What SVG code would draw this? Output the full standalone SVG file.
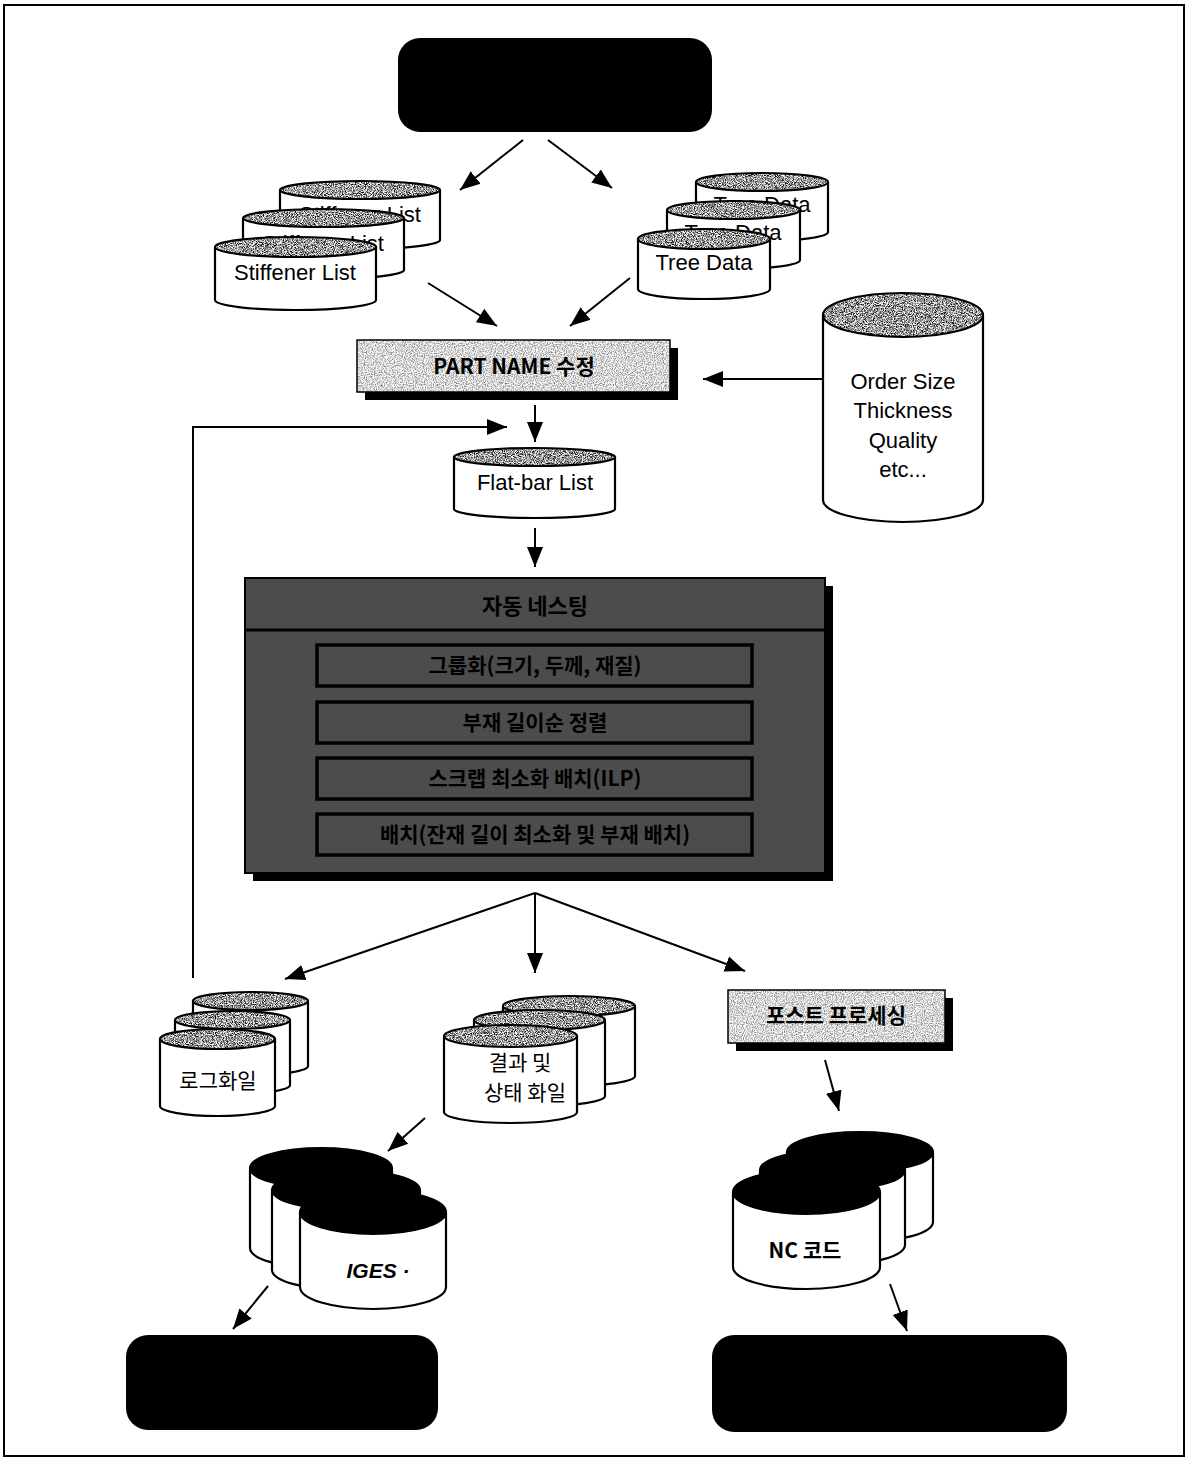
<svg xmlns="http://www.w3.org/2000/svg" width="1190" height="1461" viewBox="0 0 1190 1461">
<style>
.ln{stroke:#000;stroke-width:2;fill:none}
.body{fill:#fff;stroke:#000;stroke-width:2.2}
.t{font-family:"Liberation Sans",Arial,"Noto Sans CJK KR",sans-serif;fill:#000;text-anchor:middle}
.k{font-family:"Noto Sans CJK KR","Liberation Sans",sans-serif;fill:#000;text-anchor:middle}
.blk{fill:#000}
.rim{fill:none;stroke:#000;stroke-width:2.2}
.cap{fill:#888;filter:url(#grainM)}
</style>
<defs>
<filter id="grainL" x="0" y="0" width="1" height="1" color-interpolation-filters="sRGB">
<feTurbulence type="fractalNoise" baseFrequency="0.9" numOctaves="2" seed="3" result="n"/>
<feColorMatrix in="n" type="matrix" values="1.2 0 0 0 0.24  1.2 0 0 0 0.24  1.2 0 0 0 0.24  0 0 0 0 1" result="g"/>
<feComposite in="g" in2="SourceGraphic" operator="in"/>
</filter>
<filter id="grainM" x="0" y="0" width="1" height="1" color-interpolation-filters="sRGB">
<feTurbulence type="fractalNoise" baseFrequency="1.1" numOctaves="2" seed="5" result="n"/>
<feColorMatrix in="n" type="matrix" values="2.4 0 0 0 -0.6  2.4 0 0 0 -0.6  2.4 0 0 0 -0.6  0 0 0 0 1" result="g"/>
<feComposite in="g" in2="SourceGraphic" operator="in"/>
</filter>
<filter id="grainD" x="0" y="0" width="1" height="1" color-interpolation-filters="sRGB">
<feTurbulence type="fractalNoise" baseFrequency="1.0" numOctaves="2" seed="7" result="n"/>
<feColorMatrix in="n" type="matrix" values="3.6 0 0 0 -1.5  3.6 0 0 0 -1.5  3.6 0 0 0 -1.5  0 0 0 0 1" result="g"/>
<feComposite in="g" in2="SourceGraphic" operator="in"/>
</filter>
<marker id="ah" markerUnits="userSpaceOnUse" markerWidth="22" markerHeight="18" refX="20" refY="9" orient="auto">
<path d="M0,1 L20,9 L0,17 Z" fill="#000"/>
</marker>
</defs>
<rect width="1190" height="1461" fill="#fff"/>
<rect x="4" y="5" width="1180" height="1451" fill="none" stroke="#000" stroke-width="2"/>

<g id="start-terminal"><rect x="398" y="38" width="314" height="94" rx="22" class="blk"/></g>

<g id="stiffener-lists">
<path class="body" d="M280,190 V240 A80,9 0 0 0 440,240 V190"/>
<ellipse class="cap" cx="360" cy="190" rx="80" ry="9"/>
<ellipse class="rim" cx="360" cy="190" rx="80" ry="9"/>
<text class="t" x="360" y="222" font-size="22">Stiffener List</text>
<path class="body" d="M243,218 V270 A80.5,9 0 0 0 404,270 V218"/>
<ellipse class="cap" cx="323.5" cy="218" rx="80.5" ry="9"/>
<ellipse class="rim" cx="323.5" cy="218" rx="80.5" ry="9"/>
<text class="t" x="323" y="251" font-size="22">Stiffener List</text>
<path class="body" d="M215,247 V300 A80.5,10 0 0 0 376,300 V247"/>
<ellipse class="cap" cx="295.5" cy="247" rx="80.5" ry="10"/>
<ellipse class="rim" cx="295.5" cy="247" rx="80.5" ry="10"/>
<text class="t" x="295" y="280" font-size="22">Stiffener List</text>
</g>

<g id="tree-data">
<path class="body" d="M696,182 V232 A66,9 0 0 0 828,232 V182"/>
<ellipse class="cap" cx="762" cy="182" rx="66" ry="9"/>
<ellipse class="rim" cx="762" cy="182" rx="66" ry="9"/>
<text class="t" x="762" y="212" font-size="22">Tree Data</text>
<path class="body" d="M667,210 V260 A66.5,9 0 0 0 800,260 V210"/>
<ellipse class="cap" cx="733.5" cy="210" rx="66.5" ry="9"/>
<ellipse class="rim" cx="733.5" cy="210" rx="66.5" ry="9"/>
<text class="t" x="733" y="240" font-size="22">Tree Data</text>
<path class="body" d="M638,239 V289 A66,10 0 0 0 770,289 V239"/>
<ellipse class="cap" cx="704" cy="239" rx="66" ry="10"/>
<ellipse class="rim" cx="704" cy="239" rx="66" ry="10"/>
<text class="t" x="704" y="270" font-size="22">Tree Data</text>
</g>

<g id="part-name">
<rect x="365" y="348" width="313" height="52" class="blk"/>
<rect x="357" y="340" width="313" height="52" fill="#ccc" filter="url(#grainL)"/>
<rect x="357" y="340" width="313" height="52" fill="none" stroke="#000" stroke-width="1.5"/>
<text class="k" x="514" y="374" font-size="21" font-weight="bold">PART NAME 수정</text>
</g>

<g id="order-data">
<path class="body" d="M823,315 V500 A80,22 0 0 0 983,500 V315"/>
<ellipse class="cap" cx="903" cy="315" rx="80" ry="22"/>
<ellipse class="rim" cx="903" cy="315" rx="80" ry="22"/>
<text class="t" x="903" y="389" font-size="22">Order Size</text>
<text class="t" x="903" y="418" font-size="22">Thickness</text>
<text class="t" x="903" y="448" font-size="22">Quality</text>
<text class="t" x="903" y="477" font-size="22">etc...</text>
</g>

<g id="flatbar-list">
<path class="body" d="M454,457 V509 A80.5,9 0 0 0 615,509 V457"/>
<ellipse class="cap" cx="534.5" cy="457" rx="80.5" ry="9"/>
<ellipse class="rim" cx="534.5" cy="457" rx="80.5" ry="9"/>
<text class="t" x="535" y="490" font-size="22">Flat-bar List</text>
</g>

<g id="auto-nesting">
<rect x="253" y="586" width="580" height="295" class="blk"/>
<rect x="245" y="578" width="580" height="295" fill="#555" filter="url(#grainD)"/>
<rect x="245" y="578" width="580" height="295" fill="none" stroke="#000" stroke-width="2"/>
<line x1="245" y1="630" x2="825" y2="630" stroke="#000" stroke-width="3"/>
<text class="k" x="535" y="614" font-size="22" font-weight="bold" fill="#000">자동 네스팅</text>
<rect x="317" y="645" width="435" height="41" fill="none" stroke="#000" stroke-width="3.5"/>
<text class="k" x="535" y="673" font-size="21" font-weight="bold" fill="#111">그룹화(크기, 두께, 재질)</text>
<rect x="317" y="702" width="435" height="41" fill="none" stroke="#000" stroke-width="3.5"/>
<text class="k" x="535" y="730" font-size="21" font-weight="bold" fill="#2a2a2a">부재 길이순 정렬</text>
<rect x="317" y="758" width="435" height="41" fill="none" stroke="#000" stroke-width="3.5"/>
<text class="k" x="535" y="786" font-size="21" font-weight="bold" fill="#111">스크랩 최소화 배치(ILP)</text>
<rect x="317" y="814" width="435" height="41" fill="none" stroke="#000" stroke-width="3.5"/>
<text class="k" x="535" y="842" font-size="21" font-weight="bold" fill="#111">배치(잔재 길이 최소화 및 부재 배치)</text>
</g>

<g id="log-files">
<path class="body" d="M193,1001 V1066 A57.5,9 0 0 0 308,1066 V1001"/>
<ellipse class="cap" cx="250.5" cy="1001" rx="57.5" ry="9"/>
<ellipse class="rim" cx="250.5" cy="1001" rx="57.5" ry="9"/>
<path class="body" d="M175,1020 V1085 A57.5,9 0 0 0 290,1085 V1020"/>
<ellipse class="cap" cx="232.5" cy="1020" rx="57.5" ry="9"/>
<ellipse class="rim" cx="232.5" cy="1020" rx="57.5" ry="9"/>
<path class="body" d="M160,1039 V1106 A57.5,10 0 0 0 275,1106 V1039"/>
<ellipse class="cap" cx="217.5" cy="1039" rx="57.5" ry="10"/>
<ellipse class="rim" cx="217.5" cy="1039" rx="57.5" ry="10"/>
<text class="k" x="218" y="1088" font-size="21">로그화일</text>
</g>

<g id="result-files">
<path class="body" d="M503,1006 V1076 A66,10 0 0 0 635,1076 V1006"/>
<ellipse class="cap" cx="569" cy="1006" rx="66" ry="10"/>
<ellipse class="rim" cx="569" cy="1006" rx="66" ry="10"/>
<path class="body" d="M474,1020 V1096 A65.5,10 0 0 0 605,1096 V1020"/>
<ellipse class="cap" cx="539.5" cy="1020" rx="65.5" ry="10"/>
<ellipse class="rim" cx="539.5" cy="1020" rx="65.5" ry="10"/>
<path class="body" d="M444,1036 V1112 A66.5,11 0 0 0 577,1112 V1036"/>
<ellipse class="cap" cx="510.5" cy="1036" rx="66.5" ry="11"/>
<ellipse class="rim" cx="510.5" cy="1036" rx="66.5" ry="11"/>
<text class="k" x="520" y="1070" font-size="21">결과 및</text>
<text class="k" x="525" y="1100" font-size="21">상태 화일</text>
</g>

<g id="post-processing">
<rect x="736" y="998" width="217" height="53" class="blk"/>
<rect x="728" y="990" width="217" height="53" fill="#ccc" filter="url(#grainL)"/>
<rect x="728" y="990" width="217" height="53" fill="none" stroke="#000" stroke-width="1.5"/>
<text class="k" x="836" y="1023" font-size="21" font-weight="bold">포스트 프로세싱</text>
</g>

<g id="iges-files">
<path class="body" d="M250,1168 V1248 A71,20 0 0 0 392,1248 V1168"/>
<ellipse cx="321" cy="1168" rx="71" ry="20" fill="#000" stroke="#000" stroke-width="2"/>
<path class="body" d="M272,1190 V1270 A74,20 0 0 0 420,1270 V1190"/>
<ellipse cx="346" cy="1190" rx="74" ry="20" fill="#000" stroke="#000" stroke-width="2"/>
<path class="body" d="M300,1212 V1287 A73,22 0 0 0 446,1287 V1212"/>
<ellipse cx="373" cy="1212" rx="73" ry="22" fill="#000" stroke="#000" stroke-width="2"/>
<text class="t" x="378" y="1278" font-size="21" font-weight="bold" font-style="italic">IGES ·</text>
</g>

<g id="nc-code">
<path class="body" d="M787,1152 V1222 A73,20 0 0 0 933,1222 V1152"/>
<ellipse cx="860" cy="1152" rx="73" ry="20" fill="#000" stroke="#000" stroke-width="2"/>
<path class="body" d="M760,1170 V1245 A72.5,20 0 0 0 905,1245 V1170"/>
<ellipse cx="832.5" cy="1170" rx="72.5" ry="20" fill="#000" stroke="#000" stroke-width="2"/>
<path class="body" d="M733,1192 V1267 A73.5,22 0 0 0 880,1267 V1192"/>
<ellipse cx="806.5" cy="1192" rx="73.5" ry="22" fill="#000" stroke="#000" stroke-width="2"/>
<text class="k" x="805" y="1258" font-size="21" font-weight="bold">NC 코드</text>
</g>

<g id="end-left"><rect x="126" y="1335" width="312" height="95" rx="22" class="blk"/></g>
<g id="end-right"><rect x="712" y="1335" width="355" height="97" rx="22" class="blk"/></g>

<g id="connectors">
<line class="ln" x1="523" y1="140" x2="460" y2="190" marker-end="url(#ah)"/>
<line class="ln" x1="548" y1="140" x2="612" y2="188" marker-end="url(#ah)"/>
<line class="ln" x1="428" y1="283" x2="497" y2="326" marker-end="url(#ah)"/>
<line class="ln" x1="630" y1="278" x2="570" y2="326" marker-end="url(#ah)"/>
<line class="ln" x1="823" y1="379" x2="703" y2="379" marker-end="url(#ah)"/>
<line class="ln" x1="535" y1="405" x2="535" y2="442" marker-end="url(#ah)"/>
<polyline class="ln" points="193,978 193,427 507,427" marker-end="url(#ah)"/>
<line class="ln" x1="535" y1="528" x2="535" y2="567" marker-end="url(#ah)"/>
<line class="ln" x1="535" y1="893" x2="285" y2="979" marker-end="url(#ah)"/>
<line class="ln" x1="535" y1="893" x2="535" y2="973" marker-end="url(#ah)"/>
<line class="ln" x1="535" y1="893" x2="745" y2="971" marker-end="url(#ah)"/>
<line class="ln" x1="825" y1="1060" x2="839" y2="1111" marker-end="url(#ah)"/>
<line class="ln" x1="425" y1="1118" x2="388" y2="1151" marker-end="url(#ah)"/>
<line class="ln" x1="268" y1="1286" x2="233" y2="1329" marker-end="url(#ah)"/>
<line class="ln" x1="890" y1="1284" x2="907" y2="1331" marker-end="url(#ah)"/>
</g>
</svg>
